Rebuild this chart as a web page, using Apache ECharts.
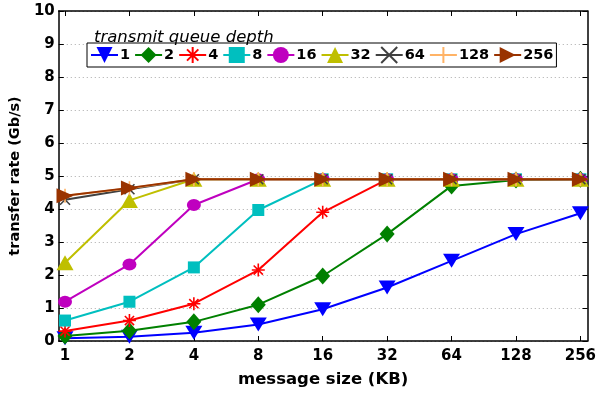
<!DOCTYPE html>
<html>
<head>
<meta charset="utf-8">
<script src="https://cdn.jsdelivr.net/npm/echarts@6/dist/echarts.min.js"></script>
<style>html,body{margin:0;padding:0;background:#fff}#c{width:599px;height:393px}</style>
</head>
<body>
<div id="c"></div>
<script>
// message size categories (KB), placed on a log2 scale
const sizes = [1, 2, 4, 8, 16, 32, 64, 128, 256];
const depthNames = ['1', '2', '4', '8', '16', '32', '64', '128', '256'];
const yTicks = [0, 1, 2, 3, 4, 5, 6, 7, 8, 9, 10];

// transfer rate (Gb/s) per transmit queue depth
const q1   = [0.08, 0.13, 0.25, 0.50, 0.96, 1.62, 2.43, 3.24, 3.87];
const q2   = [0.15, 0.31, 0.58, 1.10, 1.97, 3.24, 4.70, 4.88, 4.90];
const q4   = [0.30, 0.62, 1.13, 2.15, 3.90, 4.90, 4.90, 4.90, 4.90];
const q8   = [0.62, 1.19, 2.23, 3.97, 4.90, 4.90, 4.90, 4.90, 4.90];
const q16  = [1.19, 2.32, 4.12, 4.90, 4.90, 4.90, 4.90, 4.90, 4.90];
const q32  = [2.37, 4.26, 4.90, 4.90, 4.90, 4.90, 4.90, 4.90, 4.90];
const q64  = [4.28, 4.60, 4.90, 4.90, 4.90, 4.90, 4.90, 4.90, 4.90];
const q128 = [4.40, 4.63, 4.90, 4.90, 4.90, 4.90, 4.90, 4.90, 4.90];
const q256 = [4.40, 4.64, 4.90, 4.90, 4.90, 4.90, 4.90, 4.90, 4.90];

const allSeries = [q1, q2, q4, q8, q16, q32, q64, q128, q256];

const FONT = 'DejaVu Sans';
const asterisk = 'path://M0,-10L0,10M-10,0L10,0M-7.07,-7.07L7.07,7.07M-7.07,7.07L7.07,-7.07';
const xmark = 'path://M-10,-10L10,10M-10,10L10,-10';
const plus = 'path://M0,-10L0,10M-10,0L10,0';

const styles = [
  {color: '#0000ff', symbol: 'triangle', size: [17, 14], rotate: 180},
  {color: '#008000', symbol: 'diamond', size: [15, 17], rotate: 0},
  {color: '#ff0000', symbol: asterisk, size: [13, 13], rotate: 0, stroke: true},
  {color: '#00bfbf', symbol: 'rect', size: [12, 12], rotate: 0},
  {color: '#bf00bf', symbol: 'circle', size: [14, 12], rotate: 0},
  {color: '#bfbf00', symbol: 'triangle', size: [17, 15], rotate: 0},
  {color: '#404040', symbol: xmark, size: [10, 10], rotate: 0, stroke: true},
  {color: '#ffb366', symbol: plus, size: [14, 14], rotate: 0, stroke: true},
  {color: '#993300', symbol: 'triangle', size: [15, 17], rotate: -90}
];

const xIdx = sizes.map((s, i) => i);

const series = allSeries.map((vals, k) => {
  const st = styles[k];
  return {
    name: depthNames[k],
    type: 'line',
    data: vals.map((v, i) => [xIdx[i], v]),
    symbol: st.symbol,
    symbolSize: st.size,
    symbolRotate: st.rotate,
    showAllSymbol: true,
    lineStyle: {color: st.color, width: 2},
    itemStyle: st.stroke
      ? {color: st.color, borderColor: st.color, borderWidth: 1.6}
      : {color: st.color, borderWidth: 0},
    emphasis: {disabled: true},
    z: 2 + k
  };
});

const chart = echarts.init(document.getElementById('c'), null, {renderer: 'canvas'});
chart.setOption({
  animation: false,
  backgroundColor: '#fff',
  grid: {left: 55, right: 9, top: 11, bottom: 49, containLabel: false},
  title: {
    text: 'transmit queue depth',
    left: 89, top: 24,
    textStyle: {fontFamily: FONT, fontStyle: 'italic', fontWeight: 'normal', fontSize: 16.5, color: '#000'}
  },
  legend: {
    data: depthNames,
    left: 87, top: 43,
    orient: 'horizontal',
    itemWidth: 27, itemHeight: 20, itemGap: 4,
    padding: [3, 3, 3, 3],
    backgroundColor: '#fff',
    borderColor: '#000', borderWidth: 1, borderRadius: 0,
    selectedMode: false,
    textStyle: {fontFamily: FONT, fontWeight: 'bold', fontSize: 14.5, color: '#000', padding: [0, 0, 0, -3]}
  },
  xAxis: [{
    type: 'value',
    min: -0.097, max: 8.11,
    name: 'message size (KB)',
    nameLocation: 'middle', nameGap: 30,
    nameTextStyle: {fontFamily: FONT, fontWeight: 'bold', fontSize: 16.5, color: '#000'},
    axisLine: {show: true, onZero: false, lineStyle: {color: '#000', width: 1.5}},
    axisTick: {show: true, inside: true, length: 5, customValues: xIdx, lineStyle: {color: '#000'}},
    axisLabel: {
      customValues: xIdx, margin: 8,
      formatter: v => String(sizes[Math.round(v)]),
      fontFamily: FONT, fontWeight: 'bold', fontSize: 15, color: '#000'
    },
    splitLine: {show: false}
  }, {
    type: 'value', position: 'top',
    min: -0.097, max: 8.11,
    axisLine: {show: true, onZero: false, lineStyle: {color: '#000', width: 1.5}},
    axisTick: {show: true, inside: true, length: 5, customValues: xIdx, lineStyle: {color: '#000'}},
    axisLabel: {show: false},
    splitLine: {show: false}
  }],
  yAxis: [{
    type: 'value', min: 0, max: 10, interval: 1,
    name: 'transfer rate (Gb/s)',
    nameLocation: 'middle', nameGap: 31,
    nameTextStyle: {fontFamily: FONT, fontWeight: 'bold', fontSize: 14.5, color: '#000'},
    axisLine: {show: true, onZero: false, lineStyle: {color: '#000', width: 1.5}},
    axisTick: {show: true, inside: true, length: 5, lineStyle: {color: '#000'}},
    axisLabel: {
      margin: 4,
      formatter: v => (yTicks.indexOf(v) >= 0 ? String(v) : ''),
      fontFamily: FONT, fontWeight: 'bold', fontSize: 15, color: '#000'
    },
    splitLine: {show: true, lineStyle: {color: '#aaa', width: 1, type: [1, 3]}}
  }, {
    type: 'value', position: 'right', min: 0, max: 10, interval: 1,
    axisLine: {show: true, onZero: false, lineStyle: {color: '#000', width: 1.5}},
    axisTick: {show: true, inside: true, length: 5, lineStyle: {color: '#000'}},
    axisLabel: {show: false},
    splitLine: {show: false}
  }],
  series: series
});
</script>
</body>
</html>
